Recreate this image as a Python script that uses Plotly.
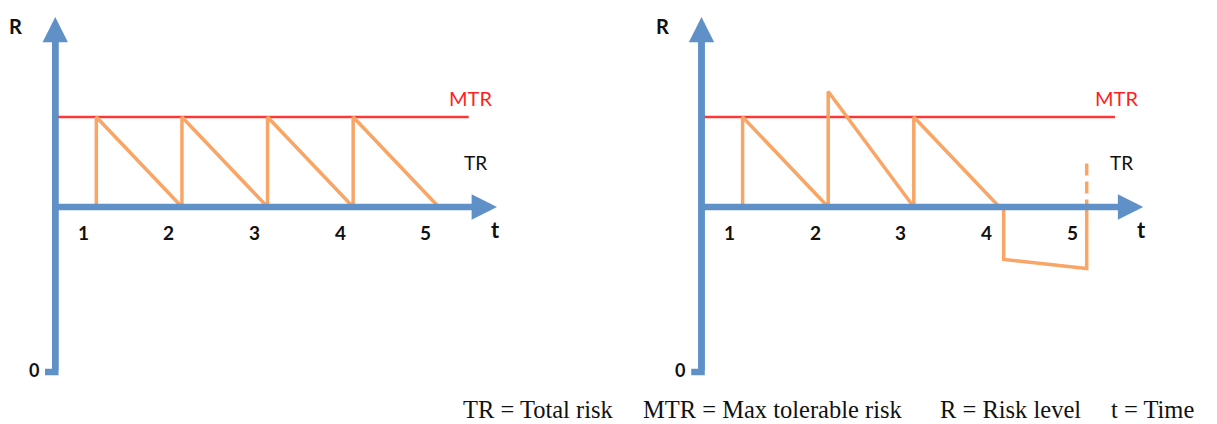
import plotly.graph_objects as go

# ---------------- data ----------------
tick_values = [1, 2, 3, 4, 5]
tick_labels = ["1", "2", "3", "4", "5"]

mtr_level = 17          # max tolerable risk level
base_level = 11         # level of the time axis
t_origin = 0.52         # where the R axis crosses the t axis
t_axis_end = 5.68       # tip of the t arrow
r_axis_bottom = 0.0     # "0" of the R axis
r_axis_top = 23.67      # tip of the R arrow
stub_left = 0.40
mtr_end = 5.35

# left panel: risk reset to MTR at each event, then decays linearly
left_tr_t = [1, 1, 2, 2, 3, 3, 4, 4, 5]
left_tr_r = [11, 17, 11, 17, 11, 17, 11, 17, 11]

# right panel: overshoot after event 2, negative dip after event 4
right_tr_t = [1, 1, 2, 2, 3, 3, 4, 4.05, 4.05, 5.02, 5.02]
right_tr_r = [11, 17, 11, 18.7, 11, 17, 11, 11, 7.5, 6.9, 11]
right_dash_t = [5.02, 5.02]
right_dash_r = [13.9, 11]

legend_items = ["TR = Total risk", "MTR = Max tolerable risk", "R = Risk level", "t = Time"]
legend_x_px = [461, 641, 938, 1109]

# ---------------- style ----------------
OFF = 8                      # page body margin of the html page
W, H = 1217 - OFF, 424 - OFF
AXIS = "#5f91c8"
ORANGE = "#f8a566"
RED = "#fa3838"
SANS = "Lato, 'Open Sans', sans-serif"
SERIF = "'Liberation Serif', 'Times New Roman', serif"
INK = "#111111"

fig = go.Figure()

panels = [
    ("x", "y", left_tr_t, left_tr_r, None),
    ("x2", "y2", right_tr_t, right_tr_r, (right_dash_t, right_dash_r)),
]

annotations = []
for xa, ya, tr_t, tr_r, dash in panels:
    # R axis shaft with bottom stub
    fig.add_trace(go.Scatter(
        x=[stub_left, t_origin, t_origin], y=[r_axis_bottom, r_axis_bottom, r_axis_top - 1.0],
        mode="lines", line=dict(color=AXIS, width=6.5), xaxis=xa, yaxis=ya,
        hoverinfo="skip", showlegend=False))
    # MTR line
    fig.add_trace(go.Scatter(
        x=[t_origin, mtr_end], y=[mtr_level, mtr_level], mode="lines",
        line=dict(color=RED, width=2.5), xaxis=xa, yaxis=ya,
        hoverinfo="skip", showlegend=False))
    # TR path
    fig.add_trace(go.Scatter(
        x=tr_t, y=tr_r, mode="lines", line=dict(color=ORANGE, width=3.5),
        xaxis=xa, yaxis=ya, hoverinfo="skip", showlegend=False))
    if dash is not None:
        fig.add_trace(go.Scatter(
            x=dash[0], y=dash[1], mode="lines",
            line=dict(color=ORANGE, width=3.5, dash="12px,6px"),
            xaxis=xa, yaxis=ya, hoverinfo="skip", showlegend=False))

    # arrows (axes)
    annotations.append(dict(
        x=t_axis_end, y=base_level, ax=t_origin, ay=base_level,
        xref=xa, yref=ya, axref=xa, ayref=ya, text="", showarrow=True,
        arrowhead=2, arrowwidth=6.5, arrowsize=0.78, arrowcolor=AXIS, standoff=0))
    annotations.append(dict(
        x=t_origin, y=r_axis_top, ax=t_origin, ay=r_axis_bottom,
        xref=xa, yref=ya, axref=xa, ayref=ya, text="", showarrow=True,
        arrowhead=2, arrowwidth=6.5, arrowsize=0.78, arrowcolor=AXIS, standoff=0))

    # tick labels
    for tv, tl in zip(tick_values, tick_labels):
        annotations.append(dict(
            x=tv, y=base_level, xref=xa, yref=ya, text="<b>" + tl + "</b>", showarrow=False,
            xshift=-13, yshift=-25, font=dict(family=SANS, size=19, color=INK),
            xanchor="center", yanchor="middle"))
    # axis letters
    annotations.append(dict(x=0.06, y=23.1, xref=xa, yref=ya, text="<b>R</b>",
                            showarrow=False, font=dict(family=SANS, size=20, color=INK)))
    annotations.append(dict(x=0.27, y=0.15, xref=xa, yref=ya, text="<b>0</b>",
                            showarrow=False, font=dict(family=SANS, size=18, color=INK)))
    annotations.append(dict(x=t_axis_end - 0.02, y=9.5, xref=xa, yref=ya, text="<b>t</b>",
                            showarrow=False, font=dict(family=SANS, size=22, color=INK)))
    annotations.append(dict(x=5.37, y=18.3, xref=xa, yref=ya, text="MTR",
                            showarrow=False, font=dict(family=SANS, size=20, color="#ff1f1f")))
    annotations.append(dict(x=5.43, y=14.0, xref=xa, yref=ya, text="TR",
                            showarrow=False, font=dict(family=SANS, size=19, color=INK)))

for txt, px in zip(legend_items, legend_x_px):
    annotations.append(dict(
        x=(px - OFF) / W, y=1 - (409 - OFF) / H, xref="paper", yref="paper", text=txt,
        showarrow=False, xanchor="left", yanchor="middle",
        font=dict(family=SERIF, size=24.5, color=INK)))

# t scale: 85.6 px per unit; t=0 at screen px 10.75 (left) and 657 (right)
PX_PER_T = 85.6
x_range = [0.0, 6.0]
span = (x_range[1] - x_range[0]) * PX_PER_T
left0 = 10.75 - OFF
right0 = 657 - OFF
# R scale: 15 px per unit, R=0 at screen py 372
y_lo = -(424 - 372) / 15
y_hi = (372 - OFF) / 15
ax_common = dict(visible=False, fixedrange=True)
fig.update_layout(
    width=W, height=H, margin=dict(l=0, r=0, t=0, b=0),
    paper_bgcolor="white", plot_bgcolor="white", showlegend=False,
    xaxis=dict(domain=[left0 / W, (left0 + span) / W], range=x_range, **ax_common),
    yaxis=dict(domain=[0, 1], range=[y_lo, y_hi], **ax_common),
    xaxis2=dict(domain=[right0 / W, (right0 + span) / W], range=x_range, **ax_common),
    yaxis2=dict(domain=[0, 1], range=[y_lo, y_hi], anchor="x2", **ax_common),
    annotations=annotations,
)

fig.write_html("out.html")
